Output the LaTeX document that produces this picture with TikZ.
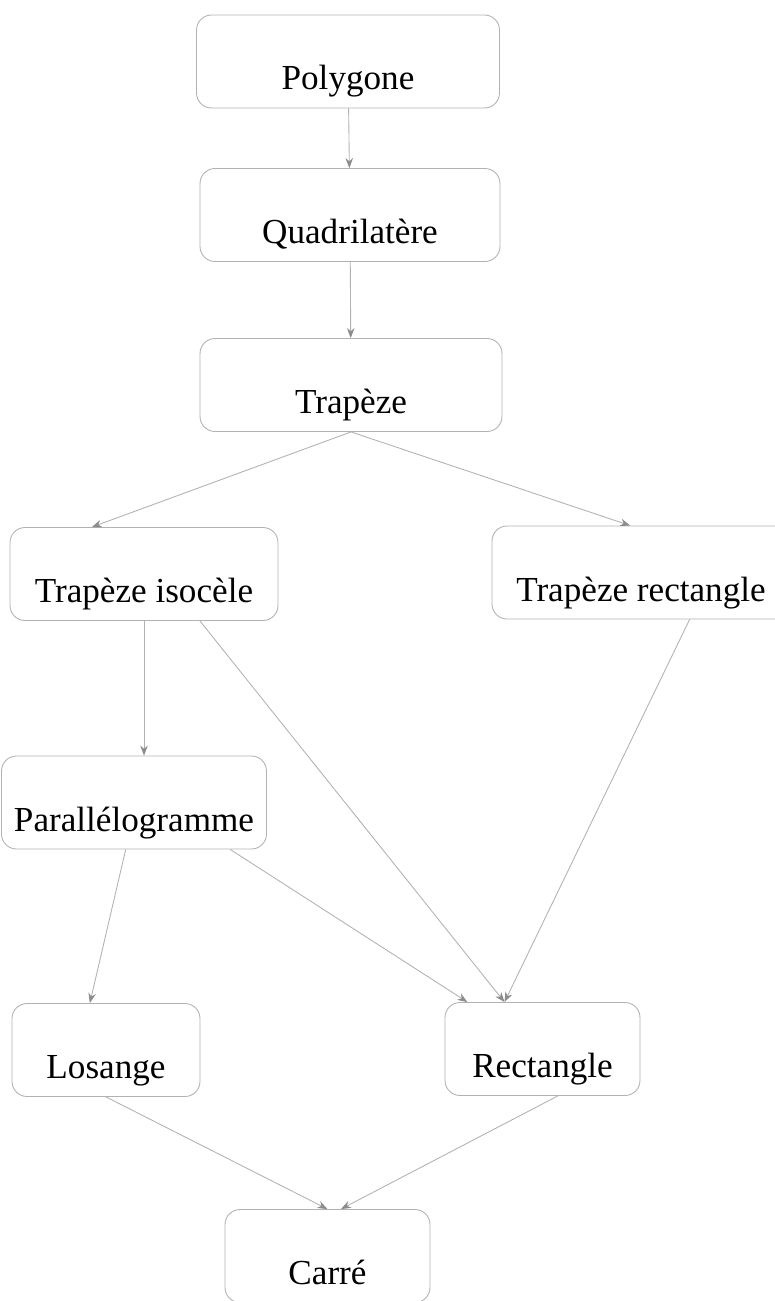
\documentclass[tikz,border=0pt]{standalone}
\usepackage{fontspec}
\setmainfont{Liberation Serif}
\usepackage{tikz}
\usetikzlibrary{arrows, positioning, shapes}
\usetikzlibrary{arrows.meta}

\begin{document}
\begin{tikzpicture}[x=0.02cm, y=-0.02cm,
  box/.style={draw=black!30, line width=0.5pt, rounded corners=0.3cm, inner sep=0pt, text height=1.5cm, text depth=0.36cm, font=\fontsize{20}{24}\selectfont},
  link/.style={draw=black!30, line width=0.5pt, -{Stealth[black!45,length=2mm,width=1.5mm]}}]
\useasboundingbox (0,0) rectangle (774,1301);
% The boxes
\node[box, minimum width=6.06cm] (poly) at (348,61.5) {Polygone};
\node[box, minimum width=6.0cm] (quad) at (350,215) {Quadrilatère};
\node[box, minimum width=6.04cm] (trap) at (351,385) {Trapèze};
\node[box, minimum width=5.36cm] (tiso) at (144,574) {Trapèze isocèle};
\node[box, minimum width=5.96cm] (trect) at (641,572.5) {Trapèze rectangle};
\node[box, minimum width=5.3cm] (para) at (134,802.5) {Parallélogramme};
\node[box, minimum width=3.76cm] (los) at (106,1050) {Losange};
\node[box, minimum width=3.9cm] (rect) at (542.5,1049) {Rectangle};
\node[box, minimum width=4.1cm] (carre) at (327.5,1256) {Carré};
% The links
\draw[link] (poly) -- (quad);
\draw[link] (quad) -- (trap);
\draw[link] (trap.south) -- (tiso.138);
\draw[link] (trap.south) -- (trect.103);
\draw[link] (tiso.south) -- (tiso.south |- para.north);
\draw[link] (tiso.-40) -- (rect.129);
\draw[link] (trect.-44) -- (rect.129);
\draw[link] (para.-100) -- (los.109);
\draw[link] (para.-26) -- (rect.148);
\draw[link] (los.south) -- (carre.north);
\draw[link] (rect.-72) -- (carre.74);
\end{tikzpicture}
\end{document}
